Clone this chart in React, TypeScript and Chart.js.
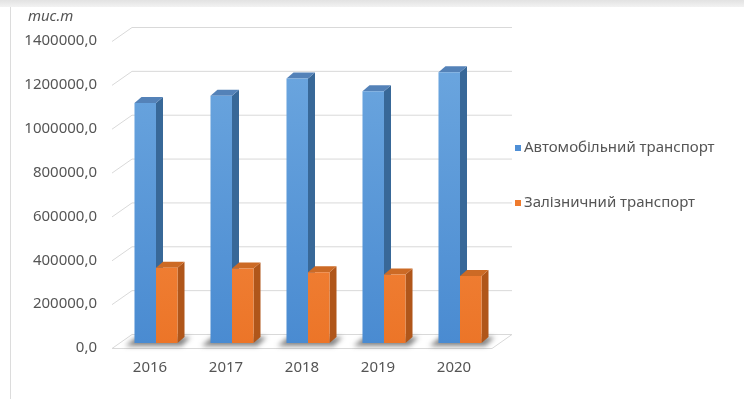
import React, { useEffect, useRef } from "react";
import { Chart, registerables } from "chart.js";

Chart.register(...registerables);

// ---- data ----
const categories = ["2016", "2017", "2018", "2019", "2020"];
const roadValues = [1094000, 1127000, 1206000, 1148000, 1235000];
const railValues = [343700, 339500, 322300, 312900, 305500];
const seriesNames = ["Автомобільний транспорт", "Залізничний транспорт"];
const yMin = 0;
const yMax = 1400000;
const yStep = 200000;
const unitLabel = "тис.т";

// ---- styles ----
const FONT = "'Noto Sans', 'Open Sans', sans-serif";
const TEXT = "#555555";
const GRID = "#d9d9d9";
const seriesStyle = [
  { light: "#6ea8e0", dark: "#4a8bd1", side: "#386898", top: "#5482b8", key: "#4f8fd6" },
  { light: "#f7944f", dark: "#ec7528", side: "#b0561a", top: "#cc6a25", key: "#ef7b2d" },
];
const DEPTH_X = 7;
const DEPTH_Y = -6;
const FRONT_DX = -6;
const FRONT_DY = 5;
const BACK_DX = 14;
const BACK_DY = -9;

const threeD = {
  id: "threeD",
  beforeDatasetsDraw(chart: any) {
    const { ctx, chartArea } = chart;
    const { left, right, bottom } = chartArea;
    const ys = chart.scales.y;
    ctx.save();
    ctx.strokeStyle = GRID;
    ctx.lineWidth = 1;
    // floor
    ctx.beginPath();
    ctx.moveTo(left + FRONT_DX, bottom + FRONT_DY + 0.5);
    ctx.lineTo(right + FRONT_DX, bottom + FRONT_DY + 0.5);
    ctx.lineTo(right + BACK_DX, bottom + BACK_DY + 0.5);
    ctx.lineTo(left + BACK_DX, bottom + BACK_DY + 0.5);
    ctx.closePath();
    ctx.stroke();
    // wall gridlines
    for (let v = yMin + yStep; v <= yMax; v += yStep) {
      const y = ys.getPixelForValue(v);
      ctx.beginPath();
      ctx.moveTo(left + FRONT_DX, y + FRONT_DY + 0.5);
      ctx.lineTo(left + BACK_DX, y + BACK_DY + 0.5);
      ctx.lineTo(right + BACK_DX, y + BACK_DY + 0.5);
      ctx.stroke();
    }
    // shadows
    ctx.filter = "blur(2.5px)";
    ctx.fillStyle = "rgba(50,50,50,0.6)";
    const m0 = chart.getDatasetMeta(0);
    const m1 = chart.getDatasetMeta(1);
    m0.data.forEach((b0: any, i: number) => {
      const b1 = m1.data[i];
      const x0 = b0.x - b0.width / 2;
      const x1 = b1.x + b1.width / 2;
      const yb = b0.base;
      ctx.beginPath();
      ctx.moveTo(x0 - 9, yb + 3);
      ctx.lineTo(x1 + 4, yb + 3);
      ctx.lineTo(x1 + DEPTH_X + 6, yb + DEPTH_Y);
      ctx.lineTo(x0 + 2, yb + DEPTH_Y);
      ctx.closePath();
      ctx.fill();
    });
    ctx.filter = "none";
    // side & top faces
    for (let i = 0; i < m0.data.length; i++) {
      [0, 1].forEach((d) => {
        const b = chart.getDatasetMeta(d).data[i];
        const st = seriesStyle[d];
        const x0 = b.x - b.width / 2;
        const x1 = b.x + b.width / 2;
        const yt = b.y;
        const yb = b.base;
        ctx.fillStyle = st.side;
        ctx.beginPath();
        ctx.moveTo(x1, yt);
        ctx.lineTo(x1 + DEPTH_X, yt + DEPTH_Y);
        ctx.lineTo(x1 + DEPTH_X, yb + DEPTH_Y);
        ctx.lineTo(x1, yb);
        ctx.closePath();
        ctx.fill();
        ctx.fillStyle = st.top;
        ctx.beginPath();
        ctx.moveTo(x0, yt);
        ctx.lineTo(x1, yt);
        ctx.lineTo(x1 + DEPTH_X, yt + DEPTH_Y);
        ctx.lineTo(x0 + DEPTH_X, yt + DEPTH_Y);
        ctx.closePath();
        ctx.fill();
      });
    }
    ctx.restore();
  },
  afterDraw(chart: any) {
    const { ctx, chartArea } = chart;
    ctx.save();
    ctx.fillStyle = TEXT;
    ctx.textBaseline = "middle";
    ctx.textAlign = "left";
    ctx.font = `italic 15px ${FONT}`;
    ctx.fillText(unitLabel, 28, 17);
    // legend
    ctx.font = `15px ${FONT}`;
    const lx = chartArea.right + 17;
    const rowY = [148, 203];
    seriesNames.forEach((name, i) => {
      ctx.fillStyle = seriesStyle[i].key;
      ctx.fillRect(lx, rowY[i] - 3, 6, 6);
      ctx.fillStyle = TEXT;
      ctx.fillText(name, lx + 9, rowY[i]);
    });
    ctx.restore();
  },
};

function grad(d: number) {
  return (c: any) => {
    const chart = c.chart;
    const ca = chart.chartArea;
    if (!ca) return seriesStyle[d].dark;
    const g = chart.ctx.createLinearGradient(0, ca.top, 0, ca.bottom);
    g.addColorStop(0, seriesStyle[d].light);
    g.addColorStop(1, seriesStyle[d].dark);
    return g;
  };
}

export default function App() {
  const ref = useRef<HTMLCanvasElement | null>(null);
  useEffect(() => {
    if (!ref.current) return;
    const chart = new Chart(ref.current, {
      type: "bar",
      data: {
        labels: categories,
        datasets: [
          { label: seriesNames[0], data: roadValues, backgroundColor: grad(0), borderWidth: 0 },
          { label: seriesNames[1], data: railValues, backgroundColor: grad(1), borderWidth: 0 },
        ],
      },
      options: {
        animation: false,
        responsive: false,
        devicePixelRatio: 1,
        layout: { padding: { top: 36, right: 246, left: 0, bottom: 0 } },
        plugins: { legend: { display: false }, tooltip: { enabled: false }, title: { display: false } },
        datasets: { bar: { categoryPercentage: 0.566, barPercentage: 1 } },
        scales: {
          x: {
            grid: { display: false, drawTicks: false },
            border: { display: false },
            ticks: { color: TEXT, font: { family: FONT, size: 15 }, padding: 16, labelOffset: -6, maxRotation: 0 },
            afterFit: (s: any) => { s.height = 56; },
          },
          y: {
            min: yMin,
            max: yMax,
            grid: { display: false, drawTicks: false },
            border: { display: false },
            ticks: {
              stepSize: yStep,
              color: TEXT,
              font: { family: FONT, size: 15 },
              padding: 21,
              labelOffset: 5,
              callback: (v: any) => Number(v).toFixed(1).replace(".", ","),
            },
            afterFit: (s: any) => { s.width = 118; },
          },
        },
      },
      plugins: [threeD],
    });
    return () => chart.destroy();
  }, []);
  return (
    <div style={{ position: "fixed", left: 0, top: 0, width: 744, height: 399, background: "#fff", overflow: "hidden" }}>
      <div style={{ position: "absolute", left: 0, top: 0, width: 744, height: 7, background: "linear-gradient(#e2e2e2, #f2f2f2)" }} />
      <div style={{ position: "absolute", left: 10, top: 7, width: 1, height: 392, background: "#dcdcdc" }} />
      <canvas ref={ref} width={744} height={399} style={{ position: "absolute", left: 0, top: 0 }} />
    </div>
  );
}
